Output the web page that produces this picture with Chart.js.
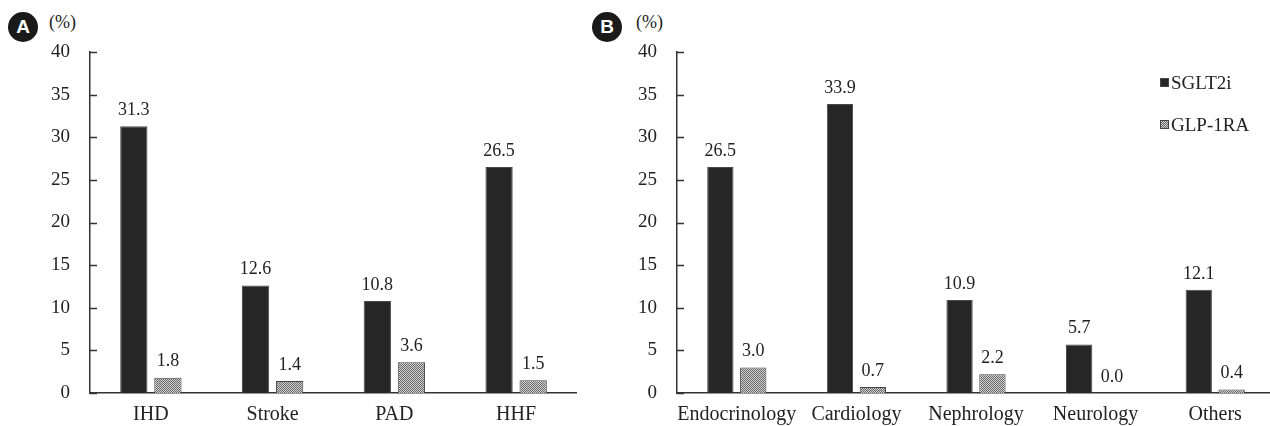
<!DOCTYPE html>
<html>
<head>
<meta charset="utf-8">
<script src="https://cdn.jsdelivr.net/npm/chart.js@4.4.1/dist/chart.umd.min.js"></script>
<style>
  html, body { margin: 0; padding: 0; background: #fff; overflow: hidden; }
  body { width: 1270px; height: 426px; position: relative; font-family: "Liberation Serif", serif; color: #222; }
  .wrap { position: absolute; top: 0; height: 426px; }
  #wrapA { left: 0; width: 577px; }
  #wrapB { left: 600px; width: 675px; }
  .badge {
    position: absolute; width: 30px; height: 30px; border-radius: 50%;
    background: #1a1a1a; color: #fff; font: bold 19px "Liberation Sans", Arial, sans-serif;
    text-align: center; line-height: 30px;
  }
  .unit { position: absolute; font-size: 18px; }
  .legend { position: absolute; left: 1160px; font-size: 19px; line-height: 20px; }
  .legend span.sw { display: inline-block; width: 7px; height: 7px; margin-right: 2px; vertical-align: 2px; border: 1px solid #444; }
</style>
</head>
<body>
<div class="badge" style="left:8px;top:12px;">A</div>
<div class="unit" style="left:49px;top:12px;">(%)</div>
<div class="badge" style="left:592px;top:12px;">B</div>
<div class="unit" style="left:636px;top:12px;">(%)</div>
<div class="wrap" id="wrapA"><canvas id="chartA"></canvas></div>
<div class="wrap" id="wrapB"><canvas id="chartB"></canvas></div>
<div class="legend" style="top:73px;"><span class="sw" style="background:#262626;"></span>SGLT2i</div>
<div class="legend" style="top:115px;"><span class="sw" style="background:repeating-conic-gradient(#6a6a6a 0 25%, #d0d0d0 0 50%) 0 0/2px 2px;"></span>GLP-1RA</div>
<script>
// panel A: by comorbidity
const labelsA = ["IHD", "Stroke", "PAD", "HHF"];
const sgltA = [31.3, 12.6, 10.8, 26.5];
const glpA = [1.8, 1.4, 3.6, 1.5];

// panel B: by department
const labelsB = ["Endocrinology", "Cardiology", "Nephrology", "Neurology", "Others"];
const sgltB = [26.5, 33.9, 10.9, 5.7, 12.1];
const glpB = [3.0, 0.7, 2.2, 0.0, 0.4];

const yMin = 0;
const yMax = 40;
const yStep = 5;

// checker pattern for the gray bars
function makePattern() {
  const c = document.createElement("canvas");
  c.width = 2;
  c.height = 2;
  const g = c.getContext("2d");
  g.fillStyle = "#d0d0d0";
  g.fillRect(0, 0, 2, 2);
  g.fillStyle = "#6a6a6a";
  g.fillRect(0, 0, 1, 1);
  g.fillRect(1, 1, 1, 1);
  return g.createPattern(c, "repeat");
}

// inward tick marks on the y axis
const innerTicks = {
  id: "innerTicks",
  afterDraw(chart) {
    const y = chart.scales.y;
    const ctx = chart.ctx;
    ctx.save();
    ctx.strokeStyle = "#333";
    ctx.lineWidth = 1.5;
    y.ticks.forEach((t) => {
      const py = Math.round(y.getPixelForValue(t.value)) + 0.5;
      ctx.beginPath();
      ctx.moveTo(y.right, py);
      ctx.lineTo(y.right + 7, py);
      ctx.stroke();
    });
    ctx.restore();
  },
};

// value labels above bars
const valueLabels = {
  id: "valueLabels",
  afterDatasetsDraw(chart) {
    const ctx = chart.ctx;
    ctx.save();
    ctx.font = '18px "Liberation Serif"';
    ctx.fillStyle = "#222";
    ctx.textAlign = "center";
    ctx.textBaseline = "middle";
    chart.data.datasets.forEach((ds, i) => {
      chart.getDatasetMeta(i).data.forEach((bar, j) => {
        ctx.fillText(ds.data[j].toFixed(1), bar.x, bar.y - 16);
      });
    });
    ctx.restore();
  },
};

function makeChart(id, labels, sglt, glp, axisWidth, catPct) {
  return new Chart(document.getElementById(id), {
    type: "bar",
    data: {
      labels: labels,
      datasets: [
        {
          label: "SGLT2i",
          data: sglt,
          backgroundColor: "#262626",
          borderColor: "#4a4a4a",
          borderWidth: 1,
        },
        {
          label: "GLP-1RA",
          data: glp,
          backgroundColor: makePattern(),
          borderColor: "#444",
          borderWidth: 1,
        },
      ],
    },
    options: {
      responsive: true,
      maintainAspectRatio: false,
      animation: false,
      categoryPercentage: catPct,
      barPercentage: 0.8,
      layout: { padding: { top: 52, right: 0, left: 0, bottom: 0 } },
      plugins: {
        legend: { display: false },
        tooltip: { enabled: false },
      },
      scales: {
        x: {
          grid: { display: false },
          border: { display: true, color: "#333", width: 1.5 },
          ticks: {
            color: "#222",
            font: { family: "Liberation Serif", size: 20 },
            padding: 2,
            maxRotation: 0,
            autoSkip: false,
          },
          afterFit: (s) => { s.height = 33; },
        },
        y: {
          min: yMin,
          max: yMax,
          grid: { display: false },
          border: { display: true, color: "#333", width: 1.5 },
          ticks: {
            stepSize: yStep,
            color: "#222",
            font: { family: "Liberation Serif", size: 19 },
            padding: 12,
          },
          afterFit: (s) => { s.width = axisWidth; },
        },
      },
    },
    plugins: [innerTicks, valueLabels],
  });
}

makeChart("chartA", labelsA, sgltA, glpA, 90, 0.56);
makeChart("chartB", labelsB, sgltB, glpB, 77, 0.55);
</script>
</body>
</html>
